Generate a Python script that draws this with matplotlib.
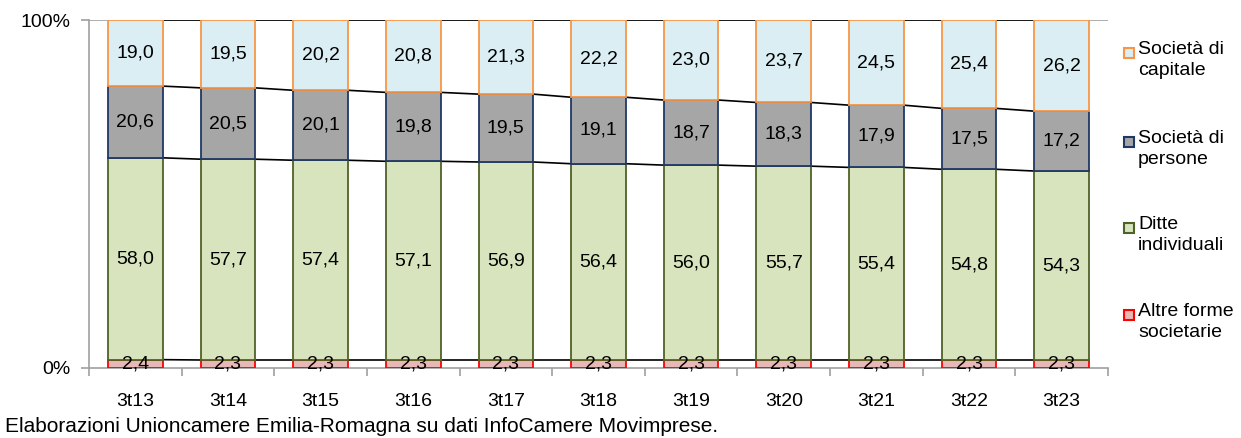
import numpy as np
import matplotlib.pyplot as plt
from matplotlib.patches import Rectangle

plt.rcParams['font.family'] = ['Liberation Sans', 'DejaVu Sans']

periods = ['3t13', '3t14', '3t15', '3t16', '3t17', '3t18', '3t19', '3t20', '3t21', '3t22', '3t23']
altre = [2.4, 2.3, 2.3, 2.3, 2.3, 2.3, 2.3, 2.3, 2.3, 2.3, 2.3]
ditte = [58.0, 57.7, 57.4, 57.1, 56.9, 56.4, 56.0, 55.7, 55.4, 54.8, 54.3]
persone = [20.6, 20.5, 20.1, 19.8, 19.5, 19.1, 18.7, 18.3, 17.9, 17.5, 17.2]
capitale = [19.0, 19.5, 20.2, 20.8, 21.3, 22.2, 23.0, 23.7, 24.5, 25.4, 26.2]

series = [
    ('Altre forme\nsocietarie', altre, '#e6b9b8', '#ff0000'),
    ('Ditte\nindividuali', ditte, '#d7e4bd', '#4f6228'),
    ('Società di\npersone', persone, '#a6a6a6', '#1f3864'),
    ('Società di\ncapitale', capitale, '#dbeef4', '#f79646'),
]

W, H = 1241, 438
fig = plt.figure(figsize=(W / 100, H / 100), dpi=100)
ax = fig.add_axes([89 / W, 70 / H, 1019 / W, 348 / H])

x = np.arange(len(periods))
width = 0.59
total = np.sum([s[1] for s in series], axis=0)
bottom = np.zeros(len(periods))
for name, vals, fc, ec in series:
    v = np.array(vals) / total * 100
    ax.bar(x, v, width, bottom=bottom, color=fc, edgecolor=ec, linewidth=1.3, zorder=3)
    for xi, yi, bi, lab in zip(x, v, bottom, vals):
        ax.text(xi, bi + yi / 2, f'{lab:.1f}'.replace('.', ','), ha='center', va='center',
                fontsize=14, zorder=5)
    bottom = bottom + v
    # series lines between bars
    for i in range(len(periods) - 1):
        ax.plot([x[i] + width / 2, x[i + 1] - width / 2], [bottom[i], bottom[i + 1]],
                color='black', linewidth=1.2, zorder=2)

ax.axhline(100, color='#a0a0a0', linewidth=1.2, zorder=1)
ax.set_xlim(-0.5, len(periods) - 0.5)
ax.set_ylim(0, 100)
ax.set_yticks([0, 100])
ax.set_yticklabels(['0%', '100%'], fontsize=14)
ax.set_xticks(x)
ax.set_xticklabels(periods, fontsize=14)
ax.set_xticks(np.arange(-0.5, len(periods)), minor=True)
ax.tick_params(axis='x', which='major', length=0, pad=18)
ax.tick_params(axis='x', which='minor', length=6, color='#a0a0a0', width=1.2)
ax.tick_params(axis='y', length=6, color='#a0a0a0', width=1.2, pad=7)
for side in ['top', 'right']:
    ax.spines[side].set_visible(False)
for side in ['left', 'bottom']:
    ax.spines[side].set_color('#a0a0a0')
    ax.spines[side].set_linewidth(1.2)

# legend, Excel style: marker aligned with first text line
legend_y = [315, 228, 142, 53]
for (name, vals, fc, ec), ly in zip(series, legend_y):
    fig.patches.append(Rectangle((1124 / W, 1 - (ly + 5) / H), 10 / W, 10 / H,
                                 facecolor=fc, edgecolor=ec, linewidth=1.5,
                                 transform=fig.transFigure, figure=fig))
    fig.text(1138 / W, 1 - (ly - 12) / H, name, fontsize=14, va='top', ha='left',
             linespacing=1.3)

fig.text(5 / W, 1 - 436 / H, 'Elaborazioni Unioncamere Emilia-Romagna su dati InfoCamere Movimprese.',
         fontsize=15, va='bottom')

fig.savefig('out.png', dpi=100)
